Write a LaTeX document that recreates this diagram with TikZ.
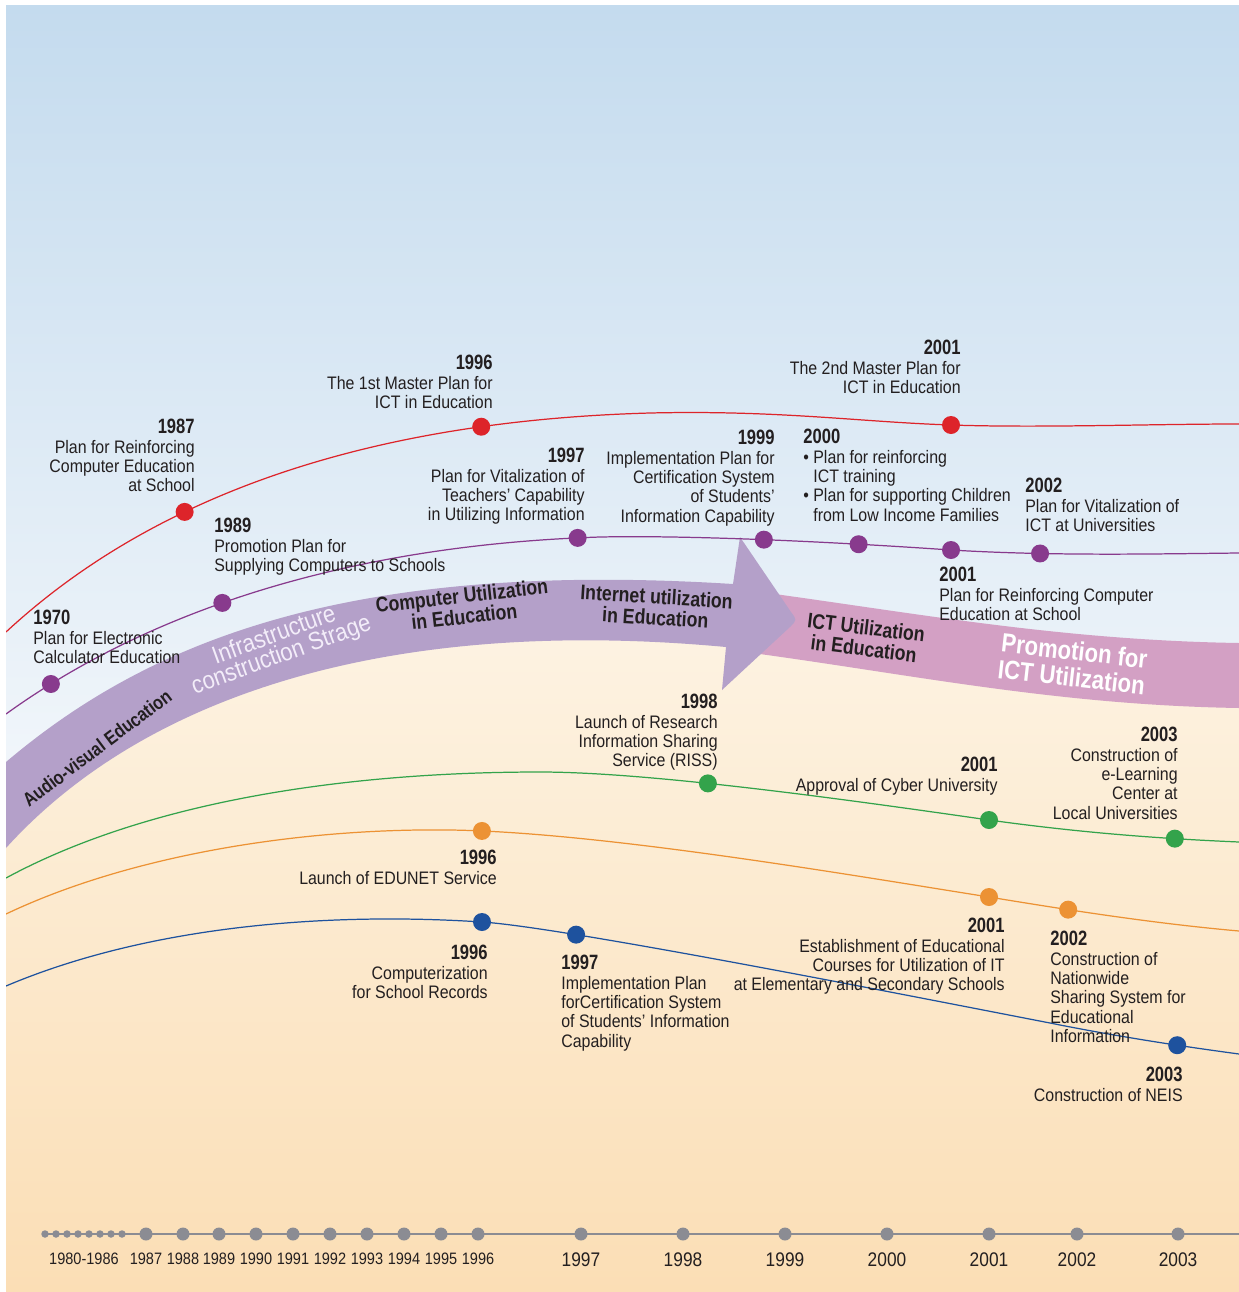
\documentclass[tikz,border=0pt]{standalone}
\usepackage{fontspec}
\setmainfont{Liberation Sans}[FakeStretch=0.88]
\newfontfamily\condbold{Liberation Sans}[FakeStretch=0.84]
\newfontfamily\yearfont{Liberation Sans}[FakeStretch=0.8]
\definecolor{bgtop}{RGB}{196,219,238}
\definecolor{bgmid}{RGB}{243,247,251}
\definecolor{bgcream}{RGB}{253,245,231}
\definecolor{bgpeach}{RGB}{251,222,181}
\definecolor{bandpurple}{RGB}{180,160,201}
\definecolor{bandpink}{RGB}{211,160,196}
\definecolor{ink}{RGB}{35,31,32}
\definecolor{lred}{RGB}{221,36,42}
\definecolor{lpurple}{RGB}{136,58,141}
\definecolor{lgreen}{RGB}{51,163,75}
\definecolor{lorange}{RGB}{236,146,52}
\definecolor{lblue}{RGB}{30,82,158}
\definecolor{tlgray}{RGB}{139,140,147}
\definecolor{lightlav}{RGB}{243,237,249}
\newcommand{\yearlbl}[1]{{\yearfont\bfseries\fontsize{11.8}{11}\selectfont #1}}
\begin{document}
\begin{tikzpicture}[x=0.02cm,y=-0.02cm,
  note/.style={inner sep=0pt, text=ink, font=\fontsize{10.3}{11}\selectfont},
  noteL/.style={note, align=left, anchor=north west},
  noteR/.style={note, align=right, anchor=north east},
  curve/.style={line width=0.7pt},
  dotnode/.style={circle, inner sep=0pt, minimum size=0.36cm, fill=#1},
  bandbold/.style={inner sep=0pt, text=ink, align=center, font=\condbold\bfseries\fontsize{12}{12}\selectfont},
  bandwhite/.style={inner sep=0pt, text=white, align=center, font=\condbold\bfseries\fontsize{15}{15}\selectfont},
  bandlight/.style={inner sep=0pt, text=lightlav, align=center, font=\fontsize{14.2}{12}\selectfont},
  tlline/.style={draw=tlgray, line width=1.1pt},
  tldot/.style={circle, fill=tlgray, inner sep=0pt, minimum size=0.26cm},
  tlsmall/.style={circle, fill=tlgray, inner sep=0pt, minimum size=0.15cm},
  tlyear/.style={inner sep=0pt, text=ink, anchor=north, font=\fontsize{9.4}{10}\selectfont},
  tlyearbig/.style={inner sep=0pt, text=ink, anchor=north, font=\fontsize{11.2}{11}\selectfont}]
\useasboundingbox (0,0) rectangle (1239,1292);
\begin{scope}
\clip (6,5) rectangle (1239,1292);
% background
\shade[top color=bgcream, bottom color=bgpeach] (6,560) rectangle (1239,1292);
\shade[top color=bgtop, bottom color=bgmid] (6,5) -- (1239,5) -- (1239,676)
  .. controls (1050,673) and (900,641) .. (735,619)
  .. controls (365,588) and (145,670) .. (6,805) -- cycle;
% bands
\fill[bandpink] (730,588) .. controls (900,610) and (1050,640) .. (1239,643)
  -- (1239,708) .. controls (1050,705) and (900,672) .. (730,650) -- cycle;
\fill[bandpurple] (6,762) .. controls (150,640) and (350,560) .. (733,584)
  -- (740,537) -- (791,612) .. controls (797,620) .. (790,627) -- (722,690)
  -- (726,647) .. controls (380,615) and (140,700) .. (6,848) -- cycle;
% curves (event coordinates lie on them)
\draw[curve, lred] (6,632) .. controls (170,480) and (400,420) .. (650,413)
   coordinate[pos=0.324] (r87) coordinate[pos=0.77] (r96)
  .. controls (780,410) and (860,422) .. (951,425) coordinate (r01)
  .. controls (1040,428) and (1150,424) .. (1239,424);
\draw[curve, lpurple] (6,714) .. controls (150,610) and (350,545) .. (600,537)
   coordinate[pos=0.1] (p70) coordinate[pos=0.43] (p89) coordinate[pos=0.97] (p97)
  .. controls (700,535) and (850,543) .. (951,550)
   coordinate[pos=0.47] (p99) coordinate[pos=0.725] (p00) coordinate (p01)
  .. controls (1050,556) and (1150,554) .. (1239,553) coordinate[pos=0.3] (p02);
\draw[curve, lgreen] (6,878) .. controls (150,800) and (350,772) .. (540,772)
  .. controls (650,772) and (850,800) .. (989,820) coordinate[pos=0.405] (g98) coordinate (g01)
  .. controls (1090,834) and (1170,839) .. (1239,842) coordinate[pos=0.705] (g03);
\draw[curve, lorange] (6,914) .. controls (130,855) and (300,828) .. (450,830)
  .. controls (600,832) and (850,875) .. (989,897) coordinate[pos=0.068] (o96) coordinate (o01)
  .. controls (1080,912) and (1160,924) .. (1239,931) coordinate[pos=0.3] (o02);
\draw[curve, lblue] (6,986) .. controls (150,925) and (330,912) .. (482,922) coordinate (b96)
  .. controls (560,927) and (880,990) .. (1050,1023) coordinate[pos=0.243] (b97)
  .. controls (1120,1037) and (1180,1046) .. (1239,1054) coordinate[pos=0.655] (b03);
% dots
\foreach \c in {r87,r96,r01} \node[dotnode=lred] (d\c) at (\c) {};
\foreach \c in {p70,p89,p97,p99,p00,p01,p02} \node[dotnode=lpurple] (d\c) at (\c) {};
\foreach \c in {g98,g01,g03} \node[dotnode=lgreen] (d\c) at (\c) {};
\foreach \c in {o96,o01,o02} \node[dotnode=lorange] (d\c) at (\c) {};
\foreach \c in {b96,b97,b03} \node[dotnode=lblue] (d\c) at (\c) {};
% band labels
\node[bandbold, rotate=37, font=\condbold\bfseries\fontsize{11}{11}\selectfont] (avlbl) at (97,748) {Audio-visual Education};
\node[bandlight, rotate=20] (inflbl) at (278,646) {Infrastructure\\construction Strage};
\node[bandbold, rotate=6.5] (culbl) at (463,606) {Computer Utilization\\in Education};
\node[bandbold, rotate=-3.5] (iulbl) at (656,607) {Internet utilization\\in Education};
\node[bandbold, rotate=-7] (ictlbl) at (865,638) {ICT Utilization\\in Education};
\node[bandwhite, rotate=-6.5] (prlbl) at (1073,664) {Promotion for\\ICT Utilization};
% event texts
\node[noteR] (t1) at (195,419) {\yearlbl{1987}\\Plan for Reinforcing\\Computer Education\\at School};
\node[noteR] (t2) at (493,355) {\yearlbl{1996}\\The 1st Master Plan for\\ICT in Education};
\node[noteR] (t3) at (961,340) {\yearlbl{2001}\\The 2nd Master Plan for\\ICT in Education};
\node[noteL] (t4) at (33,610) {\yearlbl{1970}\\Plan for Electronic\\Calculator Education};
\node[noteL] (t5) at (214,518) {\yearlbl{1989}\\Promotion Plan for\\Supplying Computers to Schools};
\node[noteR] (t6) at (585,448) {\yearlbl{1997}\\Plan for Vitalization of\\Teachers’ Capability\\in Utilizing Information};
\node[noteR] (t7) at (775,430) {\yearlbl{1999}\\Implementation Plan for\\Certification System\\of Students’\\Information Capability};
\node[noteL] (t8) at (803,429) {\yearlbl{2000}\\•\ Plan for reinforcing\\\phantom{•}\ ICT training\\•\ Plan for supporting Children\\\phantom{•}\ from Low Income Families};
\node[noteL] (t9) at (1025,478) {\yearlbl{2002}\\Plan for Vitalization of\\ICT at Universities};
\node[noteL] (t10) at (939,567) {\yearlbl{2001}\\Plan for Reinforcing Computer\\Education at School};
\node[noteR] (t11) at (718,694) {\yearlbl{1998}\\Launch of Research\\Information Sharing\\Service (RISS)};
\node[noteR] (t12) at (998,757) {\yearlbl{2001}\\Approval of Cyber University};
\node[noteR] (t13) at (1178,727) {\yearlbl{2003}\\Construction of\\e-Learning\\Center at\\Local Universities};
\node[noteR] (t14) at (497,850) {\yearlbl{1996}\\Launch of EDUNET Service};
\node[noteR] (t15) at (488,945) {\yearlbl{1996}\\Computerization\\for School Records};
\node[noteL] (t16) at (561,955) {\yearlbl{1997}\\Implementation Plan\\forCertification System\\of Students’ Information\\Capability};
\node[noteR] (t17) at (1005,918) {\yearlbl{2001}\\Establishment of Educational\\Courses for Utilization of IT\\at Elementary and Secondary Schools};
\node[noteL] (t18) at (1050,931) {\yearlbl{2002}\\Construction of\\Nationwide\\Sharing System for\\Educational\\Information};
\node[noteR] (t19) at (1183,1067) {\yearlbl{2003}\\Construction of NEIS};
% timeline
\coordinate (tlstart) at (45,1234);
\coordinate (tlend) at (1239,1234);
\draw[tlline] (tlstart) -- (tlend);
\foreach \x [count=\i] in {45,56,67,78,89,100,111,122} \node[tlsmall] (tls\i) at (\x,1234) {};
\foreach \x/\y in {146/1987,183/1988,219/1989,256/1990,293/1991,330/1992,367/1993,404/1994,441/1995,478/1996} {
  \node[tldot] (tld\y) at (\x,1234) {};
  \node[tlyear] (tly\y) at (\x,1253) {\y};
}
\foreach \x/\y in {581/1997,683/1998,785/1999,887/2000,989/2001,1077/2002,1178/2003} {
  \node[tldot] (tld\y) at (\x,1234) {};
  \node[tlyearbig] (tly\y) at (\x,1252) {\y};
}
\node[tlyear] (tly8086) at (84,1253) {1980-1986};
\end{scope}
\end{tikzpicture}
\end{document}
